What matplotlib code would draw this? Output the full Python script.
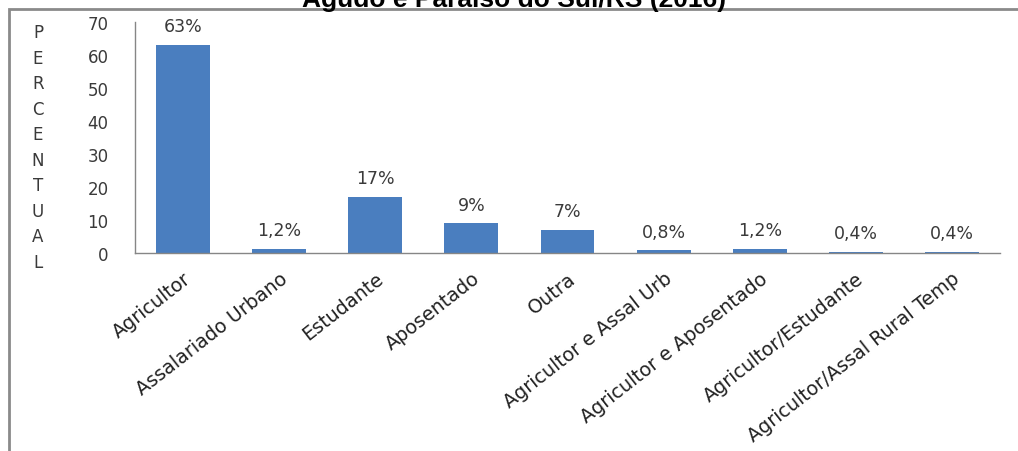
import matplotlib.pyplot as plt
from matplotlib.patches import Rectangle

categorias = ["Agricultor", "Assalariado Urbano", "Estudante", "Aposentado", "Outra",
              "Agricultor e Assal Urb", "Agricultor e Aposentado", "Agricultor/Estudante",
              "Agricultor/Assal Rural Temp"]
valores = [63, 1.2, 17, 9, 7, 0.8, 1.2, 0.4, 0.4]
rotulos = ["63%", "1,2%", "17%", "9%", "7%", "0,8%", "1,2%", "0,4%", "0,4%"]
yticks = [0, 10, 20, 30, 40, 50, 60, 70]

AZUL = "#4a7ebf"
CINZA = "#868686"
TEXTO = "#3a3a3a"

plt.rcParams["font.family"] = ["DejaVu Sans"]

fig = plt.figure(figsize=(10.18, 4.52), dpi=100)
ax = fig.add_axes([135 / 1018, 1 - 254 / 452, 865 / 1018, 231 / 452])

x = list(range(len(categorias)))
ax.bar(x, valores, width=0.56, color=AZUL)

for xi, v, r in zip(x, valores, rotulos):
    ax.annotate(r, (xi, v), xytext=(0, 7), textcoords="offset points",
                ha="center", va="bottom", fontsize=12.5, color=TEXTO)

ax.set_xlim(-0.5, len(categorias) - 0.5)
ax.set_ylim(0, 70)
ax.set_yticks(yticks)
ax.set_yticklabels([str(t) for t in yticks], fontsize=12, color=TEXTO)
ax.set_xticks(x)
ax.set_xticklabels(categorias, rotation=38, ha="right", va="top",
                   rotation_mode="anchor", fontsize=13.8, color="#222222")
ax.tick_params(axis="both", length=0)
ax.tick_params(axis="x", pad=11)
ax.tick_params(axis="y", pad=19)

for s in ["top", "right"]:
    ax.spines[s].set_visible(False)
for s in ["left", "bottom"]:
    ax.spines[s].set_color(CINZA)
    ax.spines[s].set_linewidth(1)

# rótulo vertical letra a letra
fig.text(38 / 1018, 1 - 148 / 452, "\n".join("PERCENTUAL"), ha="center", va="center",
         fontsize=12, color=TEXTO, linespacing=1.54)

# moldura da área do gráfico
fig.patches.append(Rectangle((9 / 1018, -0.1), 1.2, 1 - 10 / 452 + 0.1,
                             transform=fig.transFigure, fill=False,
                             edgecolor="#8a8a8a", linewidth=2))

fig.text(0.505, 1 - 7 / 452, "Agudo e Paraíso do Sul/RS (2016)", ha="center",
         va="baseline", fontsize=19, fontweight="bold", family="Liberation Sans")

fig.savefig("out.png", dpi=100)
